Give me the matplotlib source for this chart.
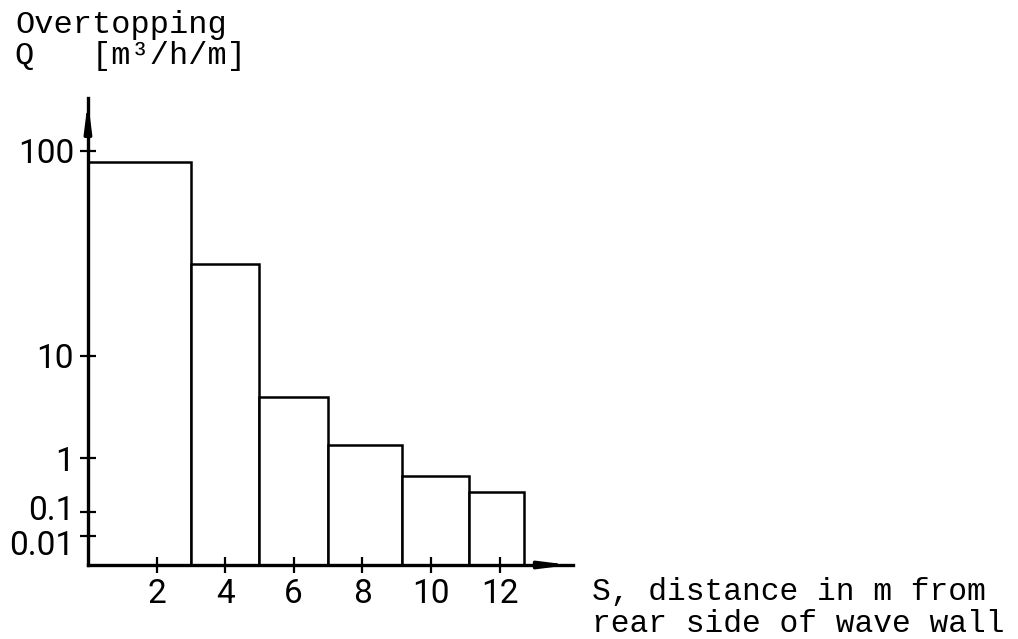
import matplotlib
matplotlib.use("Agg")
import matplotlib.pyplot as plt
import matplotlib.transforms as mtransforms
import numpy as np

# bar edges along S (m) and overtopping Q (m3/h/m)
edges = [0, 3, 5, 7, 9.15, 11.1, 12.7]
q = [88, 28, 4.0, 1.35, 0.46, 0.23]
xticks = [2, 4, 6, 8, 10, 12]
yticks = [0.01, 0.1, 1, 10, 100]
yticklabels = ["0.01", "0.1", "1", "10", "100"]

# the hand drawn axis has uneven decades: log10 value -> height on the sheet
anchor_log = [-3.2, -2, -1, 0, 1, 2, 2.3]
anchor_pos = [0, 29, 53, 107, 209, 414, 475.5]


def fwd(v):
    v = np.clip(np.asarray(v, dtype=float), 1e-8, None)
    return np.interp(np.log10(v), anchor_log, anchor_pos)


def inv(p):
    return 10 ** np.interp(np.asarray(p, dtype=float), anchor_pos, anchor_log)


fig = plt.figure(figsize=(10.18, 6.39), dpi=100)
ax = fig.add_axes([0.0864, 0.1158, 0.4764, 0.731])
ax.set_yscale("function", functions=(fwd, inv))

ymin = 10 ** -3.2
ymax = 10 ** 2.259
widths = np.diff(edges)
ax.bar(edges[:-1], np.array(q) - ymin, width=widths, bottom=ymin, align="edge",
       facecolor="white", edgecolor="black", linewidth=1.8)

ax.set_xlim(0, 14.14)
ax.set_ylim(ymin, ymax)

for s in ["top", "right"]:
    ax.spines[s].set_visible(False)
for s in ["left", "bottom"]:
    ax.spines[s].set_linewidth(2.4)
    ax.spines[s].set_zorder(5)

ax.set_xticks(xticks)
ax.set_xticklabels([str(t) for t in xticks], family="Roboto", fontsize=24)
ax.set_yticks(yticks)
ax.set_yticklabels(yticklabels, family="Roboto", fontsize=24)
ax.yaxis.set_minor_locator(matplotlib.ticker.NullLocator())
ax.tick_params(axis="both", direction="inout", length=12, width=1.6)
ax.tick_params(axis="y", pad=4)
ax.tick_params(axis="x", pad=3)

# the two lowest labels sit a little apart, as in the drawing
labs = ax.get_yticklabels()
labs[0].set_transform(labs[0].get_transform() +
                      mtransforms.ScaledTranslation(0, -5 / 72, fig.dpi_scale_trans))
labs[1].set_transform(labs[1].get_transform() +
                      mtransforms.ScaledTranslation(0, 3 / 72, fig.dpi_scale_trans))

# arrow heads at the ends of both axes
ax.annotate("", xy=(0, 1.0), xytext=(0, 0.92), xycoords="axes fraction",
            arrowprops=dict(arrowstyle="-|>,head_length=1.6,head_width=0.2",
                            color="black", lw=2.4), annotation_clip=False)
ax.annotate("", xy=(1.0, 0), xytext=(0.92, 0), xycoords="axes fraction",
            arrowprops=dict(arrowstyle="-|>,head_length=1.6,head_width=0.2",
                            color="black", lw=2.4), annotation_clip=False)

mono = "Liberation Mono"
fig.text(0.015, 0.948, "Overtopping", family=mono, fontsize=23, va="baseline")
fig.text(0.015, 0.900, "Q   [m³/h/m]", family=mono, fontsize=23, va="baseline")
fig.text(0.5815, 0.061, "S, distance in m from", family=mono, fontsize=22.5, va="baseline")
fig.text(0.5815, 0.011, "rear side of wave wall", family=mono, fontsize=22.5, va="baseline")

fig.savefig("out.png", dpi=100)
